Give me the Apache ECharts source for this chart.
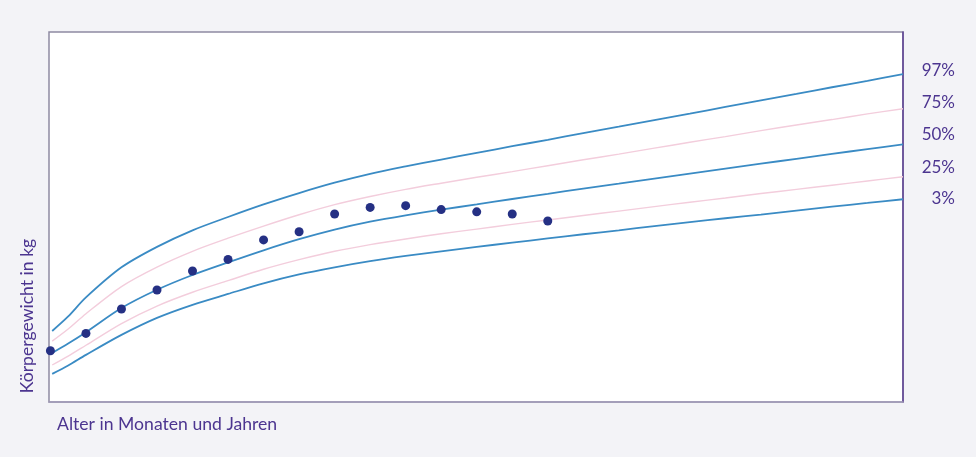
<!DOCTYPE html>
<html>
<head>
<meta charset="utf-8">
<script src="https://cdn.jsdelivr.net/npm/echarts@6/dist/echarts.min.js"></script>
<style>
html,body{margin:0;padding:0;background:#f3f3f7;}
#chart{width:976px;height:457px;}
</style>
</head>
<body>
<div id="chart"></div>
<script>
// Age (arbitrary units along the age axis) for percentile curves
const ageX = [0.05, 0.5, 1, 2, 3, 4, 5, 6, 7, 8, 9, 10, 11, 12, 13, 14, 15, 16, 17, 18, 19, 20, 21, 22, 23, 24];
// Percentile curves, body weight in kg
const p97 = [4.88, 5.47, 6.24, 7.46, 8.29, 8.96, 9.50, 10.01, 10.47, 10.89, 11.25, 11.55, 11.83, 12.10, 12.37, 12.63, 12.90, 13.16, 13.43, 13.69, 13.96, 14.23, 14.49, 14.76, 15.02, 15.29];
const p75 = [4.47, 4.96, 5.58, 6.68, 7.47, 8.11, 8.64, 9.13, 9.59, 10.00, 10.33, 10.62, 10.87, 11.11, 11.34, 11.58, 11.82, 12.05, 12.29, 12.53, 12.76, 13.00, 13.23, 13.45, 13.68, 13.89];
const p50 = [3.99, 4.37, 4.83, 5.81, 6.55, 7.15, 7.66, 8.15, 8.60, 8.99, 9.31, 9.57, 9.80, 10.01, 10.23, 10.44, 10.65, 10.85, 11.06, 11.26, 11.46, 11.66, 11.86, 12.06, 12.25, 12.44];
const p25 = [3.50, 3.86, 4.30, 5.18, 5.89, 6.45, 6.92, 7.38, 7.77, 8.11, 8.38, 8.61, 8.82, 9.01, 9.20, 9.38, 9.56, 9.74, 9.92, 10.10, 10.27, 10.45, 10.62, 10.79, 10.96, 11.13];
const p3  = [3.14, 3.48, 3.91, 4.72, 5.41, 5.94, 6.38, 6.81, 7.17, 7.46, 7.71, 7.92, 8.11, 8.29, 8.46, 8.63, 8.80, 8.96, 9.13, 9.29, 9.45, 9.60, 9.76, 9.92, 10.07, 10.22];
// Measured child weights
const childAge = [0, 1, 2, 3, 4, 5, 6, 7, 8, 9, 10, 11, 12, 13, 14];
const childWeight = [4.08, 4.78, 5.77, 6.54, 7.31, 7.78, 8.57, 8.90, 9.62, 9.89, 9.96, 9.80, 9.71, 9.62, 9.34];
// Labels
const percentLabels = ['97%', '75%', '50%', '25%', '3%'];
const xTitle = 'Alter in Monaten und Jahren';
const yTitle = 'Körpergewicht in kg';

const blue = '#3a8bc4';
const pink = '#f3cddc';
const txt = '#4c3590';
const FONT = 'Lato, "Open Sans", sans-serif';

function pairs(xs, ys) { return xs.map((x, i) => [x, ys[i]]); }
function curve(name, ys, color, width) {
  return {
    name: name, type: 'line', data: pairs(ageX, ys), smooth: 0.3,
    showSymbol: false, silent: true,
    lineStyle: { color: color, width: width }, z: 2
  };
}

const chart = echarts.init(document.getElementById('chart'));
const labelY = [71, 103, 135, 168, 199];
chart.setOption({
  backgroundColor: '#f3f3f7',
  animation: false,
  grid: {
    left: 49, right: 73, top: 32, bottom: 55,
    show: true, backgroundColor: '#ffffff',
    borderColor: '#8e8ba2', borderWidth: 1.5
  },
  xAxis: {
    type: 'value', min: -0.04, max: 24,
    axisLine: { show: true, onZero: false, lineStyle: { color: '#a29cba', width: 1.5 } },
    axisTick: { show: false }, axisLabel: { show: false }, splitLine: { show: false }
  },
  yAxis: {
    type: 'value', min: 2, max: 17, position: 'right',
    axisLine: { show: true, onZero: false, lineStyle: { color: '#5d4194', width: 1.5 } },
    axisTick: { show: false }, axisLabel: { show: false }, splitLine: { show: false }
  },
  series: [
    curve('75%', p75, pink, 1.4),
    curve('25%', p25, pink, 1.4),
    curve('97%', p97, blue, 1.8),
    curve('50%', p50, blue, 1.8),
    curve('3%', p3, blue, 1.8),
    {
      name: 'Kind', type: 'scatter', data: pairs(childAge, childWeight),
      symbolSize: 9, itemStyle: { color: '#253084', opacity: 1 }, z: 5, silent: true
    }
  ],
  graphic: percentLabels.map((t, i) => ({
    type: 'text', x: 955, y: labelY[i],
    style: { text: t, fill: txt, font: '17px ' + FONT, textAlign: 'right', textVerticalAlign: 'middle' }
  })).concat([
    { type: 'text', x: 57, y: 424,
      style: { text: xTitle, fill: txt, font: '17.6px ' + FONT, textAlign: 'left', textVerticalAlign: 'middle' } },
    { type: 'text', x: 27, y: 316, rotation: Math.PI / 2,
      style: { text: yTitle, fill: txt, font: '17.6px ' + FONT, textAlign: 'center', textVerticalAlign: 'middle' } }
  ])
});
</script>
</body>
</html>
